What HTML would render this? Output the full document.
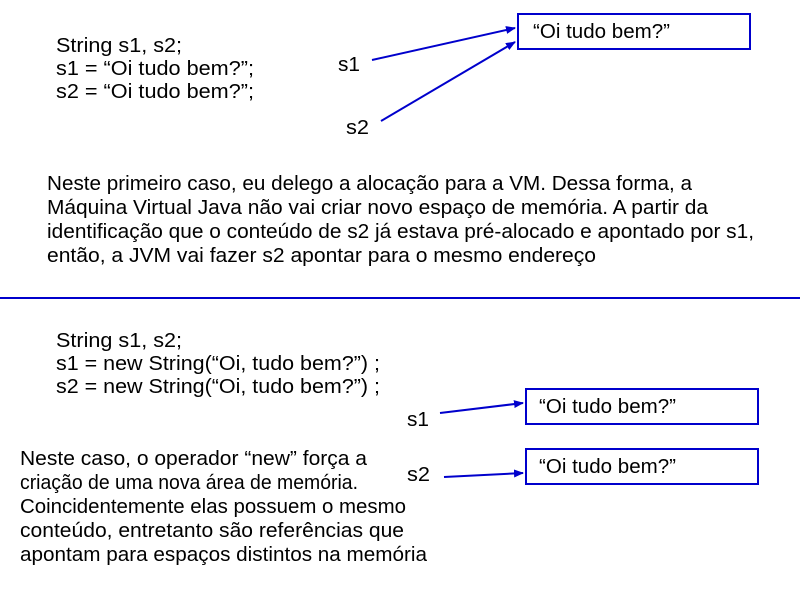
<!DOCTYPE html>
<html><head><meta charset="utf-8"><style>html,body{margin:0;padding:0;background:#fff}svg{display:block}text{font-family:"Liberation Sans",sans-serif;font-size:20px;fill:#000}</style></head>
<body>
<svg width="800" height="600" viewBox="0 0 800 600">
<defs><marker id="a" markerWidth="10" markerHeight="8" refX="9" refY="4" orient="auto" markerUnits="userSpaceOnUse"><path d="M0,0 L10,4 L0,8 z" fill="#0000cc"/></marker></defs>
<text x="56" y="52" textLength="126" lengthAdjust="spacingAndGlyphs">String s1, s2;</text>
<text x="56" y="75" textLength="198" lengthAdjust="spacingAndGlyphs">s1 = “Oi tudo bem?”;</text>
<text x="56" y="98" textLength="198" lengthAdjust="spacingAndGlyphs">s2 = “Oi tudo bem?”;</text>
<text x="338" y="71" textLength="22" lengthAdjust="spacingAndGlyphs">s1</text>
<text x="346" y="134" textLength="23" lengthAdjust="spacingAndGlyphs">s2</text>
<rect x="518" y="14" width="232" height="35" fill="none" stroke="#0000cc" stroke-width="2"/>
<text x="533" y="38" textLength="137" lengthAdjust="spacingAndGlyphs">“Oi tudo bem?”</text>
<line x1="372" y1="60" x2="515" y2="28" stroke="#0000cc" stroke-width="2" marker-end="url(#a)"/>
<line x1="381" y1="121" x2="515" y2="42" stroke="#0000cc" stroke-width="2" marker-end="url(#a)"/>
<text x="47" y="190" textLength="645" lengthAdjust="spacingAndGlyphs">Neste primeiro caso, eu delego a alocação para a VM. Dessa forma, a</text>
<text x="47" y="214" textLength="661" lengthAdjust="spacingAndGlyphs">Máquina Virtual Java não vai criar novo espaço de memória. A partir da</text>
<text x="47" y="238" textLength="707" lengthAdjust="spacingAndGlyphs">identificação que o conteúdo de s2 já estava pré-alocado e apontado por s1,</text>
<text x="47" y="262" textLength="549" lengthAdjust="spacingAndGlyphs">então, a JVM vai fazer s2 apontar para o mesmo endereço</text>
<line x1="0" y1="298" x2="800" y2="298" stroke="#0000cc" stroke-width="2"/>
<text x="56" y="347" textLength="126" lengthAdjust="spacingAndGlyphs">String s1, s2;</text>
<text x="56" y="370" textLength="324" lengthAdjust="spacingAndGlyphs">s1 = new String(“Oi, tudo bem?”) ;</text>
<text x="56" y="393" textLength="324" lengthAdjust="spacingAndGlyphs">s2 = new String(“Oi, tudo bem?”) ;</text>
<text x="407" y="426" textLength="22" lengthAdjust="spacingAndGlyphs">s1</text>
<text x="407" y="481" textLength="23" lengthAdjust="spacingAndGlyphs">s2</text>
<rect x="526" y="389" width="232" height="35" fill="none" stroke="#0000cc" stroke-width="2"/>
<text x="539" y="413" textLength="137" lengthAdjust="spacingAndGlyphs">“Oi tudo bem?”</text>
<rect x="526" y="449" width="232" height="35" fill="none" stroke="#0000cc" stroke-width="2"/>
<text x="539" y="473" textLength="137" lengthAdjust="spacingAndGlyphs">“Oi tudo bem?”</text>
<line x1="440" y1="413" x2="523" y2="403" stroke="#0000cc" stroke-width="2" marker-end="url(#a)"/>
<line x1="444" y1="477" x2="523" y2="473" stroke="#0000cc" stroke-width="2" marker-end="url(#a)"/>
<text x="20" y="465" textLength="347" lengthAdjust="spacingAndGlyphs">Neste caso, o operador “new” força a</text>
<text x="20" y="489" textLength="338" lengthAdjust="spacingAndGlyphs">criação de uma nova área de memória.</text>
<text x="20" y="513" textLength="386" lengthAdjust="spacingAndGlyphs">Coincidentemente elas possuem o mesmo</text>
<text x="20" y="537" textLength="384" lengthAdjust="spacingAndGlyphs">conteúdo, entretanto são referências que</text>
<text x="20" y="561" textLength="407" lengthAdjust="spacingAndGlyphs">apontam para espaços distintos na memória</text>
</svg>
</body></html>
